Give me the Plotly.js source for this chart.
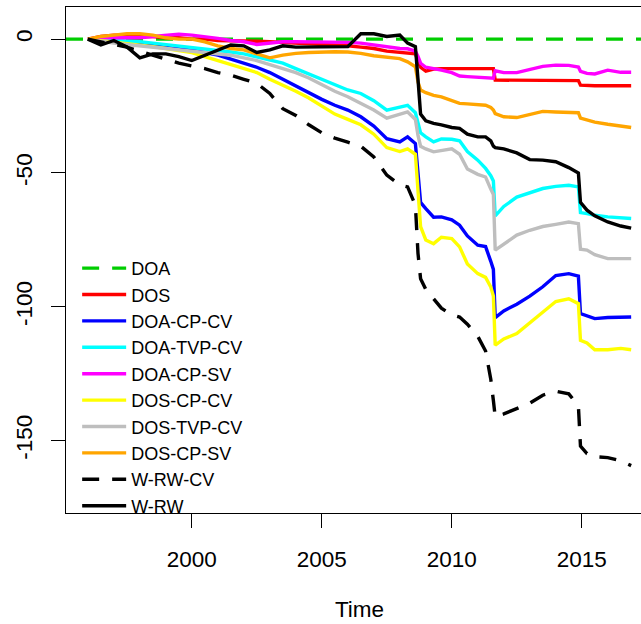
<!DOCTYPE html>
<html><head><meta charset="utf-8">
<script src="https://cdn.plot.ly/plotly-3.0.1.min.js"></script>
<style>html,body{margin:0;padding:0;overflow:hidden;background:#fff}#chart{width:680px;height:624px}</style>
</head><body><div id="chart"></div>
<script>
// ---- data ----
const time = [1996, 1996.5, 1997, 1997.5, 1998, 1998.5, 1999, 1999.5, 2000, 2000.5,
  2001, 2001.5, 2002, 2002.5, 2003, 2003.5, 2004, 2004.5, 2005, 2005.5,
  2006, 2006.5, 2007, 2007.5, 2008, 2008.3, 2008.6, 2008.7, 2008.8, 2009,
  2009.3, 2009.6, 2010, 2010.3, 2010.6, 2011, 2011.3, 2011.5, 2011.6, 2011.67,
  2012, 2012.5, 2013, 2013.5, 2014, 2014.5, 2014.87, 2014.95, 2015.2, 2015.5,
  2016, 2016.5, 2016.9];

const doa = [0, 0]; // benchmark: constant zero line across the whole axis

const dos = [0, 1, 1.5, 1.5, 1, 1, 0.5, 0.5, 0, 0,
  -0.5, -0.5, -0.5, -0.8, -1, -1.2, -1.5, -1.7, -2, -2.2,
  -2.5, -3, -3.5, -4.5, -5, -5, -5.5, -8, -10.5, -12,
  -11.2, -11, -11, -11, -11, -11, -11, -11, -11, -15.3,
  -15.3, -15.5, -15.3, -15.2, -15.3, -15.5, -15.5, -17.2, -17.4, -17.4,
  -17.4, -17.4, -17.4];

const doaCpCv = [0, -0.3, -0.5, -1, -1.5, -2, -2.5, -3, -4, -5,
  -6, -7.5, -9, -10.5, -12.5, -15, -17.5, -20.3, -22.5, -24.7,
  -26.5, -29, -32.5, -37.2, -38.4, -36.5, -39, -50, -61, -63.3,
  -66.5, -66.4, -67.5, -69.5, -73.5, -77, -77.5, -83, -86, -104,
  -101.5, -99, -96, -92.5, -88.3, -87.6, -88.5, -102.5, -103.5, -104.4,
  -104, -103.8, -103.8];

const doaTvpCv = [0, -0.2, -0.5, -0.8, -1, -1.5, -2, -2.5, -3, -3.5,
  -4, -4.8, -5.5, -6.6, -7.8, -9, -11, -13, -15, -17,
  -19, -20.3, -23, -26.5, -25.2, -24.7, -27.5, -31, -35, -36.5,
  -38.4, -37.3, -37.4, -38, -42, -45.2, -48.3, -51, -53, -66,
  -62.5, -59, -57.5, -55.8, -55, -54.6, -55.2, -64.8, -65.2, -65.8,
  -66.4, -66.8, -67];

const doaCpSv = [0, 0.5, 0.5, 0.5, 0.5, 1, 1.5, 1.8, 1.5, 1,
  0.3, -0.5, -1, -2, -1.5, -1, -1, -1, -1, -1,
  -1.2, -1.5, -2.2, -3, -3.5, -3.6, -4.5, -6.5, -9, -10.5,
  -11, -11.6, -12.5, -13.8, -14, -14.3, -14.5, -14.6, -14.6, -11.8,
  -12.5, -12.5, -11.5, -10.2, -9.7, -9.8, -10.4, -12, -12.8, -13,
  -11.6, -12.4, -12.4];

const dosCpCv = [0, -0.5, -1, -1.5, -2, -2.8, -3.5, -4.2, -5, -6.5,
  -8, -9.5, -11, -12.5, -15, -17.2, -19.5, -22, -25, -28,
  -30, -32, -35.5, -40.5, -42, -41, -43, -58, -70, -75,
  -76.4, -74, -74.5, -77.6, -84, -87.6, -89, -92.6, -96, -114.3,
  -112, -110, -106, -102, -98, -97, -98.8, -112.5, -113.5, -116,
  -116, -115.5, -116];

const dosTvpCv = [0, -0.8, -1.5, -2, -2.5, -3, -3.5, -4, -4.5, -5,
  -5.5, -6, -7, -8, -9.5, -11, -12.5, -14.5, -17, -19.5,
  -21.5, -24, -26.5, -29.5, -28, -27.2, -30, -36, -40, -41,
  -42.1, -41.5, -41, -43, -48.5, -50.5, -51.5, -56, -58, -78.8,
  -76.5, -73.2, -71.4, -70, -69.2, -68.3, -68.9, -78.5, -78.8, -80.5,
  -82, -82, -82];

const dosCpSv = [0, 1, 1.5, 2, 2, 1.5, 0.5, 0, 0, -1,
  -2.5, -3.5, -4, -5.5, -7, -6, -5.3, -5, -4.8, -4.7,
  -4.8, -5.3, -6.2, -6.8, -7.3, -8.5, -10.3, -16, -19, -20,
  -21, -21.6, -23, -24, -24.2, -24.5, -24.7, -25.5, -26.5, -27.8,
  -29, -29.3, -28, -27, -27.2, -27.2, -27.5, -29.5, -30.3, -31,
  -31.8, -32.3, -33];

const wRwCv = [0, -1, -2, -3, -4.5, -6, -7.5, -9, -10, -11,
  -12.5, -13.5, -15, -16.5, -20.3, -26, -28.5, -32, -35, -37,
  -38.5, -40, -44, -50.8, -54.5, -55.2, -62, -80, -89.5, -93.5,
  -97, -100.5, -103, -103.8, -106.5, -111, -116.5, -127, -135, -141,
  -140, -138, -136, -133, -131.5, -132.5, -137, -152, -154.8, -156,
  -156.3, -157.5, -159.3];

const wRw = [0, -2.2, -0.5, -2.9, -7, -5.5, -5.5, -6.5, -8, -6,
  -4, -2.2, -2.5, -5, -4, -2.5, -3, -3, -3, -2.8,
  -2.8, 2, 2, 1, 1.5, -1.5, -2.8, -15, -28, -30.5,
  -31.5, -32, -33, -33.3, -35.5, -36.5, -36.5, -38, -40, -40.5,
  -41, -42.5, -45, -45.2, -45.8, -48, -50, -61, -63.9, -66,
  -68.3, -69.8, -70.6];

const seriesNames = ['DOA', 'DOS', 'DOA-CP-CV', 'DOA-TVP-CV', 'DOA-CP-SV',
  'DOS-CP-CV', 'DOS-TVP-CV', 'DOS-CP-SV', 'W-RW-CV', 'W-RW'];
const xTicks = [2000, 2005, 2010, 2015];
const yTicks = [-150, -100, -50, 0];

// ---- styling ----
const xRange = [1995.16, 2017.74];
const yRange = [-177, 12];
const colors = ['#00CD00', '#FF0000', '#0000FF', '#00FFFF', '#FF00FF',
  '#FFFF00', '#BEBEBE', '#FFA500', '#000000', '#000000'];
const dashes = ['17px,13px', 'solid', 'solid', 'solid', 'solid',
  'solid', 'solid', 'solid', '17px,13px', 'solid'];
const values = [doa, dos, doaCpCv, doaTvpCv, doaCpSv, dosCpCv, dosTvpCv, dosCpSv, wRwCv, wRw];

const traces = values.map((v, i) => ({
  type: 'scatter', mode: 'lines',
  x: i === 0 ? xRange : time,
  y: v,
  name: seriesNames[i],
  line: {color: colors[i], width: 3.4, dash: dashes[i]},
  hoverinfo: 'skip'
}));

const font = {family: 'Liberation Sans, Arial, sans-serif', color: '#000'};
const layout = {
  width: 680, height: 624,
  margin: {l: 66, r: 27, t: 7, b: 111},
  paper_bgcolor: '#fff', plot_bgcolor: '#fff',
  showlegend: true,
  legend: {
    x: 0.019, y: 0.52, xanchor: 'left', yanchor: 'top',
    bgcolor: 'rgba(0,0,0,0)', borderwidth: 0,
    font: {family: font.family, color: '#000', size: 18},
    itemwidth: 44, tracegroupgap: 0
  },
  xaxis: {
    range: xRange, tickvals: xTicks, ticktext: xTicks.map(String),
    showgrid: false, zeroline: false,
    showline: true, linecolor: '#000', linewidth: 1, mirror: true,
    ticks: 'outside', ticklen: 14, tickwidth: 1, tickcolor: '#000',
    tickfont: {family: font.family, color: '#000', size: 22.5},
    ticklabelstandoff: 12,
    title: {text: 'Time', font: {family: font.family, color: '#000', size: 22.5}, standoff: 30}
  },
  yaxis: {
    range: yRange, tickvals: yTicks, ticktext: yTicks.map(String),
    showgrid: false, zeroline: false,
    showline: true, linecolor: '#000', linewidth: 1, mirror: true,
    ticks: 'outside', ticklen: 14, tickwidth: 1, tickcolor: '#000',
    tickangle: -90,
    tickfont: {family: font.family, color: '#000', size: 22.5},
    ticklabelstandoff: 10
  }
};
Plotly.newPlot('chart', traces, layout, {displayModeBar: false, staticPlot: true});
</script>
</body></html>
